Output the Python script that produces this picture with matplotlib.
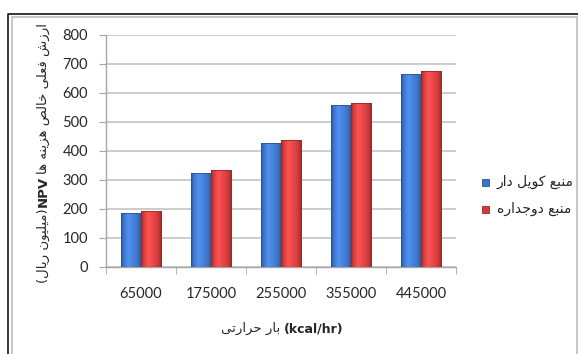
import matplotlib
matplotlib.use('Agg')
import matplotlib.pyplot as plt
import numpy as np
from matplotlib.colors import LinearSegmentedColormap, to_rgb
from matplotlib.lines import Line2D
from matplotlib.patches import Rectangle

# ---------------- data ----------------
categories = ['65000', '175000', '255000', '355000', '445000']
coil_values = [185, 323, 427, 557, 663]
double_values = [192, 333, 437, 566, 675]
series_names = ['منبع کویل دار', 'منبع دوجداره']
y_ticks = [0, 100, 200, 300, 400, 500, 600, 700, 800]
x_title_fa = 'بار حرارتی'
x_title_unit = '(kcal/hr)'
y_title_fa = 'ارزش فعلی خالص هزینه ها'
y_title_npv = 'NPV'
y_title_unit_fa = 'میلیون ریال'

# ---------------- minimal Persian shaping ----------------
FORMS = {
    'ا': (0xFE8D, 0xFE8E, None, None),
    'ب': (0xFE8F, 0xFE90, 0xFE91, 0xFE92),
    'ت': (0xFE95, 0xFE96, 0xFE97, 0xFE98),
    'ج': (0xFE9D, 0xFE9E, 0xFE9F, 0xFEA0),
    'ح': (0xFEA1, 0xFEA2, 0xFEA3, 0xFEA4),
    'خ': (0xFEA5, 0xFEA6, 0xFEA7, 0xFEA8),
    'د': (0xFEA9, 0xFEAA, None, None),
    'ر': (0xFEAD, 0xFEAE, None, None),
    'ز': (0xFEAF, 0xFEB0, None, None),
    'ش': (0xFEB5, 0xFEB6, 0xFEB7, 0xFEB8),
    'ص': (0xFEB9, 0xFEBA, 0xFEBB, 0xFEBC),
    'ع': (0xFEC9, 0xFECA, 0xFECB, 0xFECC),
    'ف': (0xFED1, 0xFED2, 0xFED3, 0xFED4),
    'ل': (0xFEDD, 0xFEDE, 0xFEDF, 0xFEE0),
    'م': (0xFEE1, 0xFEE2, 0xFEE3, 0xFEE4),
    'ن': (0xFEE5, 0xFEE6, 0xFEE7, 0xFEE8),
    'ه': (0xFEE9, 0xFEEA, 0xFEEB, 0xFEEC),
    'و': (0xFEED, 0xFEEE, None, None),
    '\u06cc': (0xFBFC, 0xFBFD, 0xFBFE, 0xFBFF),
    '\u06a9': (0xFB8E, 0xFB8F, 0xFB90, 0xFB91),
}
NORMAL = {'\u064a': '\u06cc', '\u0649': '\u06cc', '\u0643': '\u06a9'}


def visual(text):
    s = [NORMAL.get(c, c) for c in text]
    out = []
    for i, c in enumerate(s):
        if c not in FORMS:
            out.append(c)
            continue
        f = FORMS[c]
        prev = s[i - 1] if i > 0 else None
        nxt = s[i + 1] if i + 1 < len(s) else None
        jp = prev in FORMS and FORMS[prev][2] is not None
        jn = f[2] is not None and nxt in FORMS
        if jp and jn:
            code = f[3]
        elif jp:
            code = f[1]
        elif jn:
            code = f[2]
        else:
            code = f[0]
        out.append(chr(code))
    return ''.join(reversed(out))


# ---------------- figure ----------------
W, H = 578, 354
fig = plt.figure(figsize=(W / 100, H / 100), dpi=100)
plt.rcParams['font.family'] = ['Lato', 'DejaVu Sans']

ax_l, ax_r, ax_t, ax_b = 106, 456, 34.7, 266.5
ax = fig.add_axes([ax_l / W, 1 - ax_b / H, (ax_r - ax_l) / W, (ax_b - ax_t) / H])

x = np.arange(len(categories))
bw = 0.29
blue, blue_edge = '#3C74C9', '#2B5596'
red, red_edge = '#D43C3C', '#9C2828'

b1 = ax.bar(x - bw / 2, coil_values, bw, color=blue, linewidth=0, zorder=3)
b2 = ax.bar(x + bw / 2, double_values, bw, color=red, linewidth=0, zorder=3)


def grad_cmap(base):
    c = np.array(to_rgb(base))
    dark = c * 0.72
    light = np.clip(c * 1.12 + 0.06, 0, 1)
    return LinearSegmentedColormap.from_list(
        'g', [(0, dark), (0.12, c), (0.35, light), (0.8, c), (1, dark)])


for bars, base in ((b1, blue), (b2, red)):
    cm = grad_cmap(base)
    for p in bars:
        x0, y0 = p.get_x(), p.get_y()
        w_, h_ = p.get_width(), p.get_height()
        ax.imshow(np.linspace(0, 1, 64)[None, :], cmap=cm,
                  extent=(x0, x0 + w_, y0, y0 + h_), aspect='auto',
                  zorder=3.5, clip_path=p, clip_on=True, interpolation='bilinear')

ax.bar(x - bw / 2, coil_values, bw, fill=False, edgecolor=blue_edge, linewidth=0.6, zorder=4)
ax.bar(x + bw / 2, double_values, bw, fill=False, edgecolor=red_edge, linewidth=0.6, zorder=4)

ax.set_xlim(-0.5, len(categories) - 0.5)
ax.set_ylim(0, 800)
ax.set_aspect('auto')
ax.set_yticks(y_ticks)
ax.set_xticks(x)
ax.set_xticklabels(categories)
ax.set_xticks(np.arange(-0.5, len(categories), 1), minor=True)

ax.yaxis.grid(True, color='#C4C4C4', linewidth=1.2, zorder=0)
ax.set_axisbelow(True)
for s in ('top', 'right'):
    ax.spines[s].set_visible(False)
for s in ('left', 'bottom'):
    ax.spines[s].set_color('#A6A6A6')
    ax.spines[s].set_linewidth(1.0)

ax.tick_params(axis='y', length=5, color='#A6A6A6', pad=8, labelsize=10.5, labelcolor='#262626')
ax.tick_params(axis='x', which='major', length=0, pad=15, labelsize=10.5, labelcolor='#262626')
ax.tick_params(axis='x', which='minor', length=5, color='#A6A6A6')

# ---------------- legend (manual, figure pixels) ----------------
leg_rows_y = [182, 209]
for name, col, ecol, ry in zip(series_names, (blue, red), (blue_edge, red_edge), leg_rows_y):
    fig.add_artist(Rectangle((482 / W, 1 - (ry + 3.5) / H), 7 / W, 7 / H,
                             transform=fig.transFigure, facecolor=col,
                             edgecolor=ecol, linewidth=0.6))
    fig.text(497 / W, 1 - ry / H, visual(name), family='DejaVu Sans', size=10,
             color='#262626', ha='left', va='center')

# ---------------- axis titles (built from pieces) ----------------
fig.canvas.draw()
rend = fig.canvas.get_renderer()

# x title
xt1 = fig.text(0, 0, visual(x_title_fa), family='DejaVu Sans', size=9.5, color='#262626',
               ha='left', va='baseline')
xt2 = fig.text(0, 0, x_title_unit, family='DejaVu Sans', weight='bold', size=9, color='#262626',
               ha='left', va='baseline')
w1 = xt1.get_window_extent(rend).width
w2 = xt2.get_window_extent(rend).width
gap = 4
cx, base_y = 282, 332
start = cx - (w1 + gap + w2) / 2
xt1.set_position((start / W, 1 - base_y / H))
xt2.set_position(((start + w1 + gap) / W, 1 - base_y / H))

# y title (rotated, bottom to top)
pieces = [
    ('(' + visual(y_title_unit_fa) + ')', 'normal'),
    (y_title_npv, 'bold'),
    (visual(y_title_fa), 'normal'),
]
ytexts = []
for txt, wt in pieces:
    t = fig.text(0, 0, txt, family='DejaVu Sans', weight=wt, size=9.5, color='#262626',
                 rotation=90, rotation_mode='anchor', ha='left', va='baseline')
    ytexts.append(t)
lens = [t.get_window_extent(rend).height for t in ytexts]
ygap = 2
total = sum(lens) + ygap * (len(lens) - 1)
cy, base_x = 153, 47
pos = cy + total / 2  # bottom (pixel from top)
for t, L in zip(ytexts, lens):
    t.set_position((base_x / W, 1 - pos / H))
    pos -= L + ygap

# ---------------- chart frame ----------------
def px_line(xs, ys, color, lw):
    fig.add_artist(Line2D([v / W for v in xs], [1 - v / H for v in ys],
                          transform=fig.transFigure, color=color, linewidth=lw,
                          solid_capstyle='butt'))

px_line([11.5, 11.5, 576.5, 576.5], [354, 17, 17, 354], '#C8C8C8', 1.5)
px_line([7.5, 7.5, 578], [354, 13.5, 13.5], '#000000', 1.1)

fig.savefig('out.png', dpi=100)
